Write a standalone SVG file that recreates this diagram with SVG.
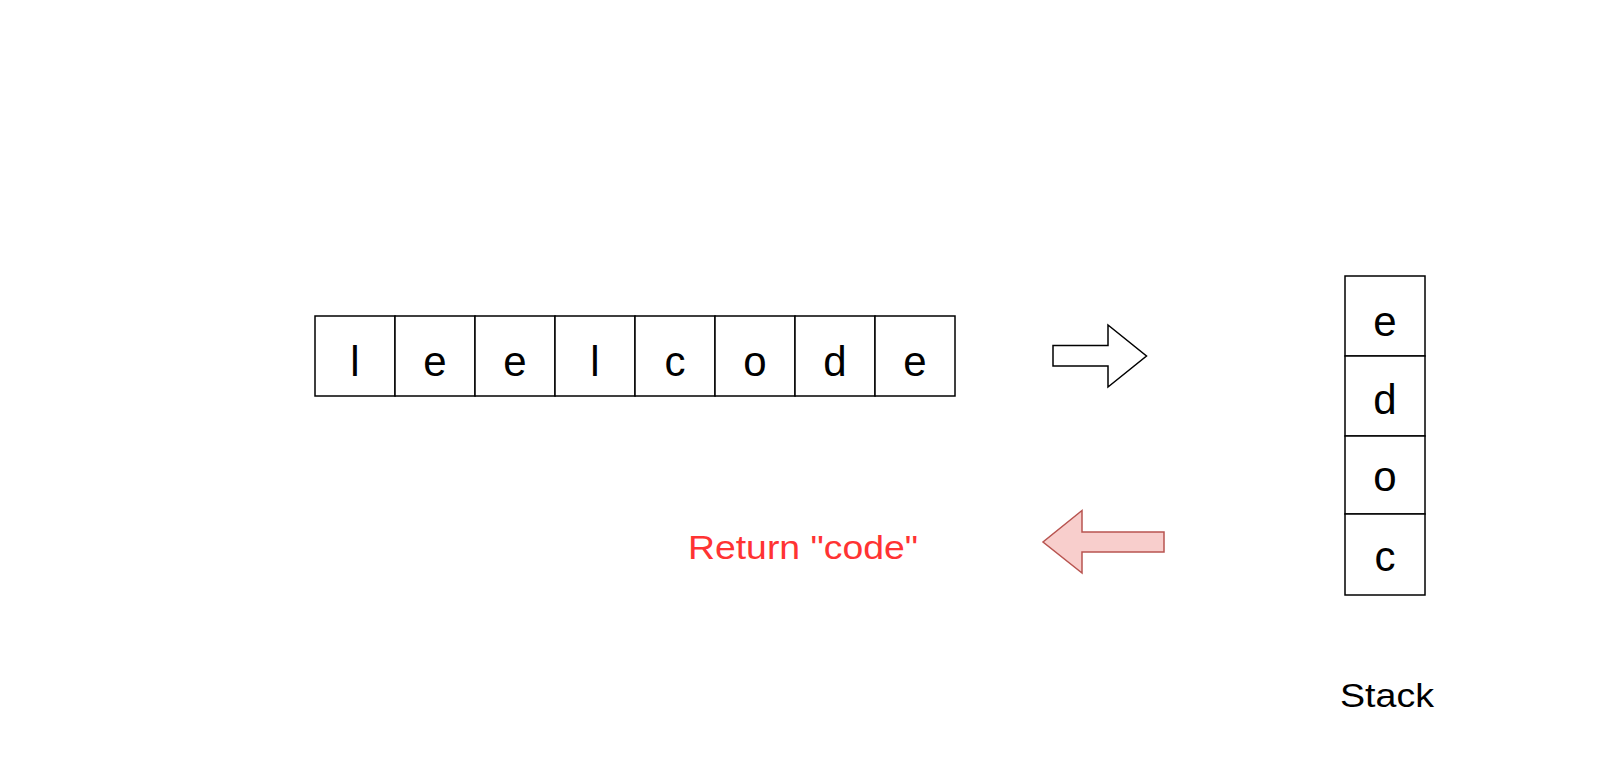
<svg xmlns="http://www.w3.org/2000/svg" width="1616" height="772" viewBox="0 0 1616 772">
  <style>
    .cell { fill: #ffffff; stroke: #000000; stroke-width: 1.5; }
    .ch { font-family: "Comic Sans MS", "Liberation Sans", sans-serif; font-size: 42px; fill: #000000; text-anchor: middle; }
    .lbl { font-family: "Comic Sans MS", "Liberation Sans", sans-serif; font-size: 34px; text-anchor: middle; }
  </style>
  <rect width="1616" height="772" fill="#ffffff"/>

  <!-- input string as a row of cells -->
  <g id="string">
    <rect class="cell" x="315" y="316" width="80" height="80"/>
    <rect class="cell" x="395" y="316" width="80" height="80"/>
    <rect class="cell" x="475" y="316" width="80" height="80"/>
    <rect class="cell" x="555" y="316" width="80" height="80"/>
    <rect class="cell" x="635" y="316" width="80" height="80"/>
    <rect class="cell" x="715" y="316" width="80" height="80"/>
    <rect class="cell" x="795" y="316" width="80" height="80"/>
    <rect class="cell" x="875" y="316" width="80" height="80"/>
    <text class="ch" x="355" y="376">l</text>
    <text class="ch" x="435" y="376">e</text>
    <text class="ch" x="515" y="376">e</text>
    <text class="ch" x="595" y="376">l</text>
    <text class="ch" x="675" y="376">c</text>
    <text class="ch" x="755" y="376">o</text>
    <text class="ch" x="835" y="376">d</text>
    <text class="ch" x="915" y="376">e</text>
  </g>

  <!-- stack, top to bottom -->
  <g id="stack">
    <rect class="cell" x="1345" y="276" width="80" height="80"/>
    <rect class="cell" x="1345" y="356" width="80" height="80"/>
    <rect class="cell" x="1345" y="436" width="80" height="78"/>
    <rect class="cell" x="1345" y="514" width="80" height="81"/>
    <text class="ch" x="1385" y="336">e</text>
    <text class="ch" x="1385" y="414">d</text>
    <text class="ch" x="1385" y="491">o</text>
    <text class="ch" x="1385" y="571">c</text>
  </g>

  <g id="stack-label">
    <text class="lbl" x="1387" y="707" fill="#000000" textLength="94" lengthAdjust="spacingAndGlyphs">Stack</text>
  </g>

  <g id="result-label">
    <text class="lbl" x="803" y="559" fill="#ff3333" textLength="230" lengthAdjust="spacingAndGlyphs">Return "code"</text>
  </g>

  <g id="connectors">
    <!-- push: string into stack -->
    <path d="M1053,345.5 L1108,345.5 L1108,325 L1146.5,356 L1108,387 L1108,366 L1053,366 Z" fill="#ffffff" stroke="#000000" stroke-width="1.5"/>
    <!-- pop: stack back out as result -->
    <path d="M1164,532 L1082,532 L1082,510.5 L1043,542 L1082,573 L1082,552 L1164,552 Z" fill="#f8cecc" stroke="#b85450" stroke-width="1.5"/>
  </g>
</svg>
